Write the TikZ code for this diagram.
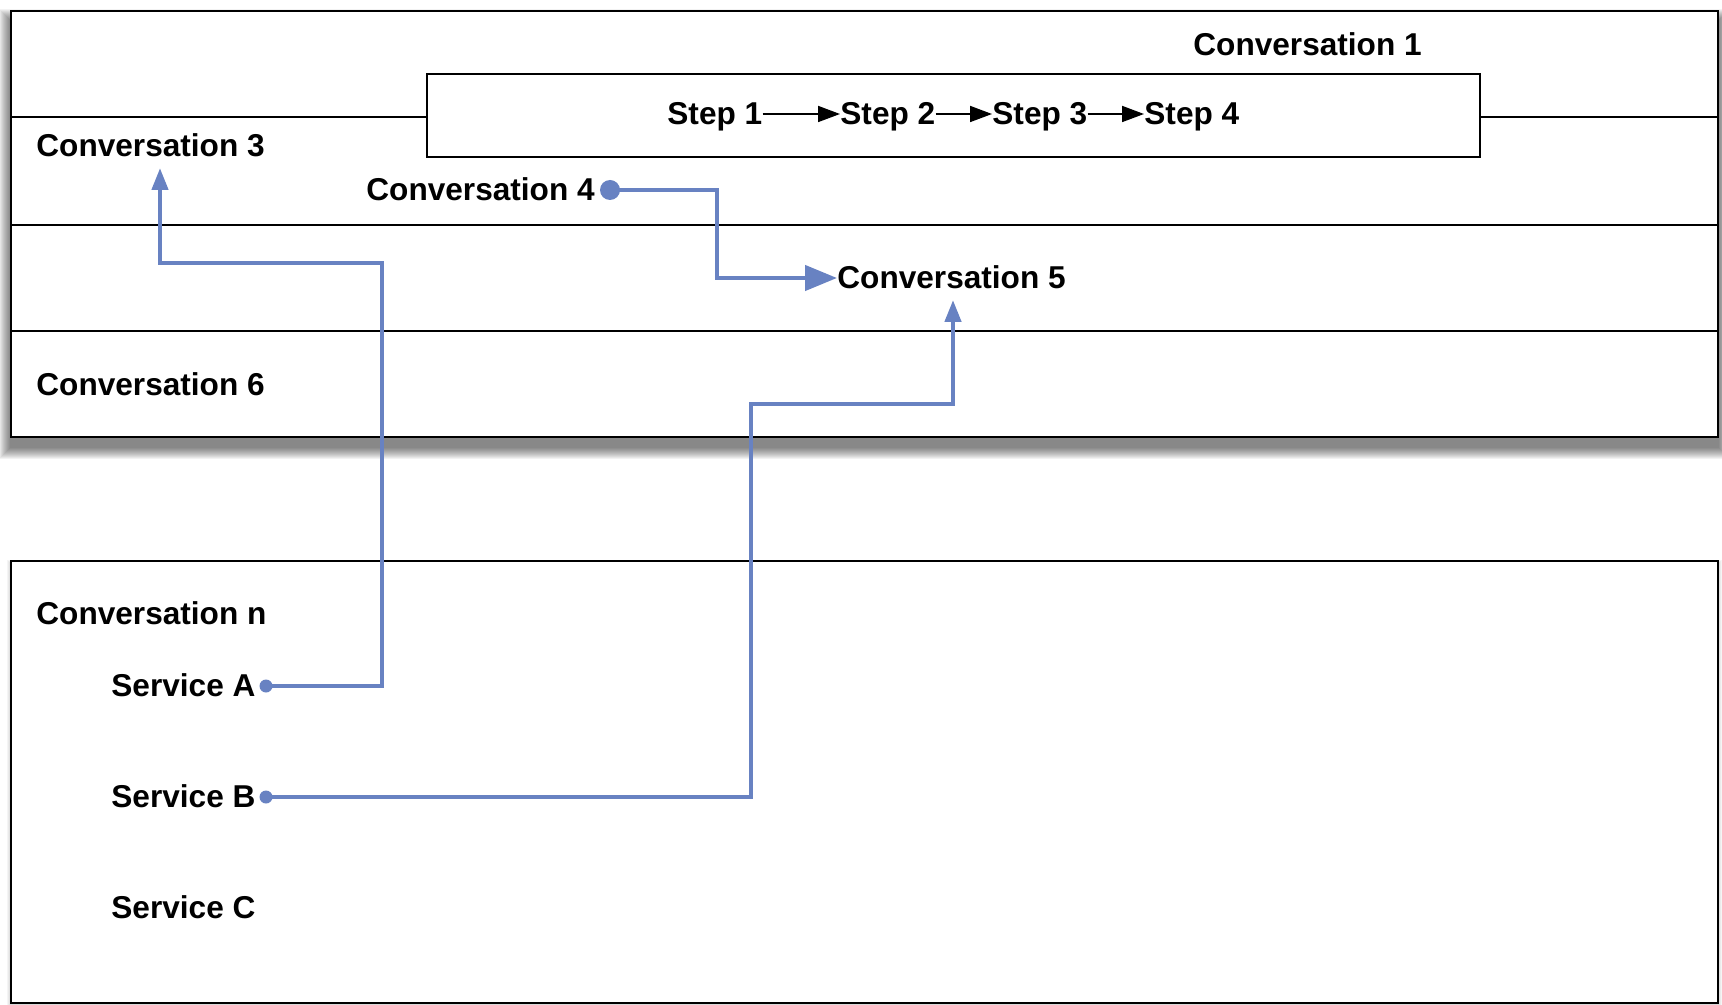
\documentclass[tikz,border=0pt]{standalone}
\usepackage{fontspec}
\setmainfont{Liberation Sans}
\usepackage{xcolor}
\usetikzlibrary{arrows.meta}
\definecolor{linkblue}{RGB}{104,130,194}

\begin{document}
\begin{tikzpicture}[x=0.5pt,y=-0.5pt,
  every node/.style={inner sep=0pt,anchor=base west,font=\fontsize{15.8}{19}\selectfont\bfseries},
  link/.style={draw=linkblue,line width=2.2pt},
  dot/.style={circle,fill=linkblue,minimum size=#1,anchor=center},
  frame/.style={draw=black,line width=1.2pt,fill=white},
  steparrow/.style={-{Triangle[length=11pt,width=8pt]},line width=0.9pt}]
\useasboundingbox (0,0) rectangle (1722,1005);
% soft shadows under the two frames
\foreach \s in {1,...,12}
  \fill [black,opacity=0.05] (11-\s,11-\s+10) rectangle (1718+\s,437+\s+10);
\foreach \s in {1,...,4}
  \fill [black,opacity=0.04] (11-\s,561-\s+3) rectangle (1718+\s,1003+\s+3);
\draw [frame] (11,11) rectangle (1718,437);
\draw [frame] (11,561) rectangle (1718,1003);
\draw [line width=1pt] (11,117) -- (427,117) (1480,117) -- (1718,117);
\draw [line width=1pt] (11,225) -- (1718,225) (11,331) -- (1718,331);
\draw [line width=1pt] (427,74) rectangle (1480,157);

\node (conv1) at (1193,56) {Conversation 1};
\node (step1) at (667,125) {Step 1};
\node (step2) at (840,125) {Step 2};
\node (step3) at (992,125) {Step 3};
\node (step4) at (1144,125) {Step 4};
\draw [steparrow] ([yshift=5.5pt]step1.base east) -- ([yshift=5.5pt]step2.base west);
\draw [steparrow] ([yshift=5.5pt]step2.base east) -- ([yshift=5.5pt]step3.base west);
\draw [steparrow] ([yshift=5.5pt]step3.base east) -- ([yshift=5.5pt]step4.base west);

\node (conv3) at (36,157) {Conversation 3};
\node (conv4) at (366,201) {Conversation 4};
\node (conv5) at (837,289) {Conversation 5};
\node (conv6) at (36,395) {Conversation 6};
\node (convn) at (36,624) {Conversation n};
\node (servA) at (111,696) {Service A};
\node (servB) at (111,807) {Service B};
\node (servC) at (111,918) {Service C};

\node [dot=10pt] (dot4) at (610,190) {};
\node [dot=6.5pt] (dotA) at (266,686) {};
\node [dot=6.5pt] (dotB) at (266,797) {};
\coordinate (tip3) at (160,168);
\coordinate (tip5) at (953,300);

\draw [link,-{Triangle[length=16pt,width=12.5pt]}] (dot4.center) -- ++(107,0) |- ([yshift=5.5pt]conv5.base west);
\draw [link,-{Triangle[length=11pt,width=8pt]}] (dotA.center) -| (382,263) -| (tip3);
\draw [link,-{Triangle[length=11pt,width=8pt]}] (dotB.center) -| (751,404) -| (tip5);
\end{tikzpicture}
\end{document}
